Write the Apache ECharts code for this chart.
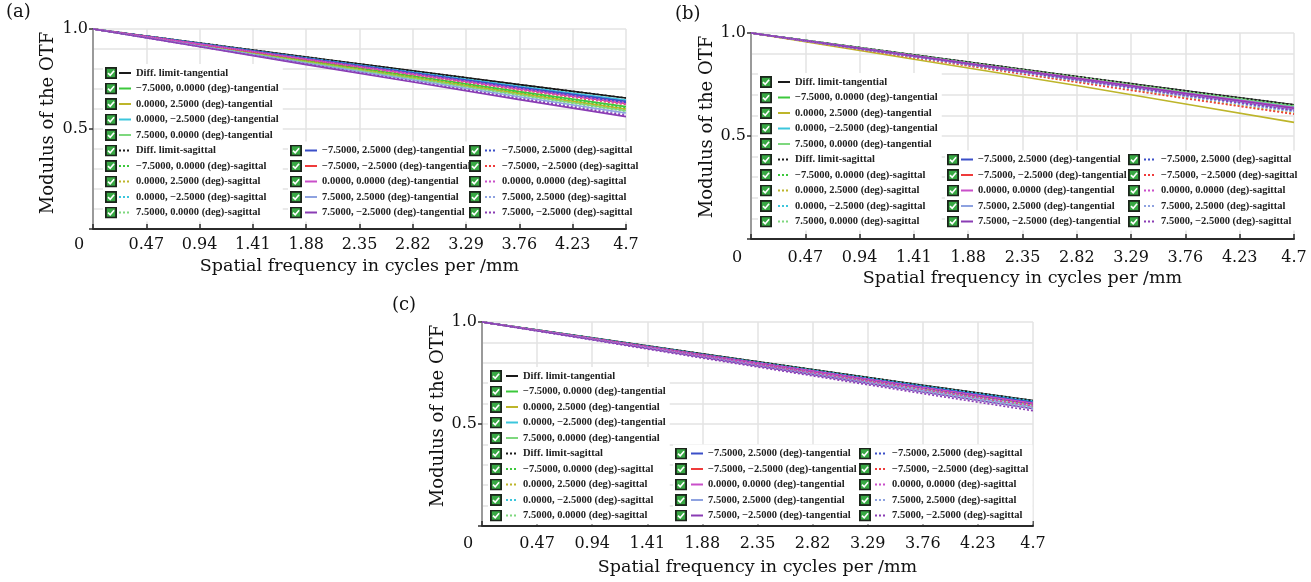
<!DOCTYPE html>
<html>
<head>
<meta charset="utf-8">
<script src="https://cdn.jsdelivr.net/npm/echarts@6/dist/echarts.min.js"></script>
<style>html,body{margin:0;padding:0;background:#fff;}#c{width:1311px;height:582px;}</style>
</head>
<body>
<div id="c"></div>
<script>
// ---------- data ----------
const xValues = [0, 0.94, 1.88, 2.82, 3.76, 4.7];
const xTickLabels = ['0','0.47','0.94','1.41','1.88','2.35','2.82','3.29','3.76','4.23','4.7'];
const yTickValues = [0.5, 1.0];
const yTickLabels = ['0.5', '1.0'];
const xAxisTitle = 'Spatial frequency in cycles per /mm';
const yAxisTitle = 'Modulus of the OTF';
const panelLabels = ['(a)', '(b)', '(c)'];

const seriesNames = [
  'Diff. limit-tangential',
  '\u22127.5000, 0.0000 (deg)-tangential',
  '0.0000, 2.5000 (deg)-tangential',
  '0.0000, \u22122.5000 (deg)-tangential',
  '7.5000, 0.0000 (deg)-tangential',
  'Diff. limit-sagittal',
  '\u22127.5000, 0.0000 (deg)-sagittal',
  '0.0000, 2.5000 (deg)-sagittal',
  '0.0000, \u22122.5000 (deg)-sagittal',
  '7.5000, 0.0000 (deg)-sagittal',
  '\u22127.5000, 2.5000 (deg)-tangential',
  '\u22127.5000, \u22122.5000 (deg)-tangential',
  '0.0000, 0.0000 (deg)-tangential',
  '7.5000, 2.5000 (deg)-tangential',
  '7.5000, \u22122.5000 (deg)-tangential',
  '\u22127.5000, 2.5000 (deg)-sagittal',
  '\u22127.5000, \u22122.5000 (deg)-sagittal',
  '0.0000, 0.0000 (deg)-sagittal',
  '7.5000, 2.5000 (deg)-sagittal',
  '7.5000, \u22122.5000 (deg)-sagittal'
];
const seriesColors = [
  '#1a1a1a','#3cc83c','#bdb52a','#3cc6dc','#7ed87e',
  '#1a1a1a','#3cc83c','#bdb52a','#3cc6dc','#7ed87e',
  '#3b4fc8','#ef3b3b','#c94fc9','#8ea2e0','#8a3cb4',
  '#3b4fc8','#ef3b3b','#c94fc9','#8ea2e0','#8a3cb4'
];
const seriesDotted = [
  false,false,false,false,false, true,true,true,true,true,
  false,false,false,false,false, true,true,true,true,true
];

const mtfA = [
  [1,.930,.860,.791,.722,.655],
  [1,.921,.842,.765,.687,.612],
  [1,.919,.838,.758,.678,.600],
  [1,.928,.856,.785,.714,.645],
  [1,.917,.834,.753,.671,.592],
  [1,.930,.860,.791,.722,.655],
  [1,.920,.840,.761,.682,.605],
  [1,.918,.837,.756,.676,.598],
  [1,.927,.854,.782,.710,.640],
  [1,.916,.833,.750,.668,.588],
  [1,.927,.853,.781,.708,.638],
  [1,.924,.849,.775,.700,.628],
  [1,.925,.850,.776,.702,.630],
  [1,.915,.829,.745,.661,.580],
  [1,.911,.822,.735,.647,.562],
  [1,.925,.851,.777,.703,.632],
  [1,.923,.847,.771,.695,.622],
  [1,.924,.848,.773,.698,.625],
  [1,.914,.827,.742,.657,.575],
  [1,.912,.825,.738,.652,.568]
];
const mtfB = [
  [1,.929,.859,.789,.720,.652],
  [1,.927,.855,.783,.711,.642],
  [1,.915,.830,.745,.655,.566],
  [1,.928,.856,.785,.714,.645],
  [1,.929,.857,.787,.716,.648],
  [1,.929,.859,.789,.720,.652],
  [1,.925,.851,.777,.703,.632],
  [1,.921,.842,.764,.686,.610],
  [1,.926,.852,.779,.706,.635],
  [1,.927,.854,.782,.710,.640],
  [1,.925,.850,.776,.702,.630],
  [1,.925,.851,.778,.704,.633],
  [1,.927,.853,.781,.708,.638],
  [1,.924,.849,.775,.700,.628],
  [1,.926,.852,.779,.706,.635],
  [1,.923,.846,.770,.694,.620],
  [1,.920,.840,.761,.682,.606],
  [1,.924,.849,.775,.700,.628],
  [1,.922,.845,.769,.692,.618],
  [1,.924,.848,.773,.698,.625]
];
const mtfC = [
  [1,.922,.844,.767,.690,.615],
  [1,.921,.842,.764,.686,.610],
  [1,.918,.837,.756,.676,.598],
  [1,.921,.842,.765,.687,.612],
  [1,.918,.836,.755,.674,.595],
  [1,.922,.844,.767,.690,.615],
  [1,.919,.838,.758,.678,.600],
  [1,.916,.832,.749,.666,.585],
  [1,.920,.840,.761,.682,.605],
  [1,.915,.830,.747,.663,.582],
  [1,.920,.840,.761,.682,.606],
  [1,.919,.838,.758,.678,.600],
  [1,.919,.838,.759,.679,.602],
  [1,.916,.832,.749,.666,.585],
  [1,.914,.827,.742,.657,.575],
  [1,.918,.836,.755,.674,.595],
  [1,.917,.834,.752,.670,.590],
  [1,.917,.834,.753,.671,.592],
  [1,.914,.827,.742,.657,.575],
  [1,.912,.823,.736,.649,.565]
];

// ---------- layout (positions / styles) ----------
const FONT = 'DejaVu Serif';
const LFONT = 'Liberation Serif';
const TXT = '#111';
const GRIDC = '#e3e3e3';
const panels = [
  { data: mtfA, grid:{left:93, top:29, width:533, height:200}, lab:{left:6, top:3},
    xMargin:8, xGap:28, yGap:36, yShift:12,
    cb:[105,290,469], ln:[118,304,484], tops:[67,144.5] },
  { data: mtfB, grid:{left:751, top:33, width:543, height:206}, lab:{left:675, top:5},
    xMargin:11, xGap:30, yGap:30, yShift:18,
    cb:[760,947,1128], ln:[777,960,1143], tops:[76,153.5] },
  { data: mtfC, grid:{left:482, top:322, width:551, height:204}, lab:{left:392, top:296},
    xMargin:10, xGap:32, yGap:34, yShift:16,
    cb:[490,675,859], ln:[505,690,874], tops:[370,447.5] }
];

const CHECK_SVG = "<svg xmlns='http://www.w3.org/2000/svg' width='12' height='12' viewBox='0 0 12 12'>" +
  "<rect x='0' y='0' width='12' height='12' fill='#1b241b'/>" +
  "<rect x='1.8' y='1.8' width='8.4' height='8.4' fill='#38a844'/>" +
  "<path d='M3 6.1 L5.2 8.3 L9.1 3.7' stroke='#ffffff' stroke-width='1.6' fill='none'/></svg>";
const CHECK_ICON = 'image://data:image/svg+xml;charset=utf-8,' + encodeURIComponent(CHECK_SVG);

function fmtX(v) {
  const i = Math.round(v / 0.47);
  const t = xTickLabels[i] !== undefined ? xTickLabels[i] : '';
  return i === 0 ? '{z|' + t + '}' : t;
}
function fmtY(v) {
  const k = yTickValues.indexOf(Math.round(v * 10) / 10);
  return k < 0 ? '' : yTickLabels[k];
}

const option = { animation:false, backgroundColor:'#ffffff',
  title:[], grid:[], xAxis:[], yAxis:[], legend:[], series:[] };

const colSlices = [[0,10],[10,15],[15,20]];

panels.forEach((p, pi) => {
  option.title.push({ text: panelLabels[pi], left: p.lab.left, top: p.lab.top, padding:0,
    textStyle:{ fontFamily:FONT, fontSize:18, fontWeight:'normal', color:TXT } });
  option.grid.push(Object.assign({ containLabel:false }, p.grid));
  option.xAxis.push({
    gridIndex: pi, type:'value', min:0, max:4.7, interval:0.47,
    name: xAxisTitle, nameLocation:'middle', nameGap: p.xGap,
    nameTextStyle:{ fontFamily:FONT, fontSize:17.5, color:TXT },
    axisLine:{ show:true, onZero:false, lineStyle:{ color:'#2b2b2b', width:2 } },
    axisTick:{ show:true, inside:true, length:5, lineStyle:{ color:'#2b2b2b', width:1.5 } },
    axisLabel:{ margin: p.xMargin, fontFamily:FONT, fontSize:16, color:TXT, formatter: fmtX,
      rich:{ z:{ fontFamily:FONT, fontSize:16, color:TXT, padding:[0,28,0,0] } } },
    splitLine:{ show:true, lineStyle:{ color:GRIDC, width:1.5 } }
  });
  option.yAxis.push({
    gridIndex: pi, type:'value', min:0, max:1, interval:0.5,
    name: yAxisTitle, nameLocation:'middle', nameGap: p.yGap, nameRotate:90,
    nameTextStyle:{ fontFamily:FONT, fontSize:18, color:TXT, padding:[0,0,0,p.yShift] },
    axisLine:{ show:true, lineStyle:{ color:'#9a9a9a', width:2 } },
    axisTick:{ show:true, length:4, lineStyle:{ color:'#333', width:1.5 } },
    axisLabel:{ margin:5, fontFamily:FONT, fontSize:16, color:TXT, formatter: fmtY },
    splitLine:{ show:true, lineStyle:{ color:GRIDC, width:1.5 } },
    minorTick:{ show:false, splitNumber:5 },
    minorSplitLine:{ show:true, lineStyle:{ color:GRIDC, width:1.5 } }
  });
  seriesNames.forEach((nm, j) => {
    option.series.push({
      type:'line', name: nm, xAxisIndex: pi, yAxisIndex: pi,
      data: xValues.map((x, k) => [x, p.data[j][k]]),
      symbol:'none', showSymbol:false, silent:true,
      lineStyle:{ color: seriesColors[j], width:1.6, type: seriesDotted[j] ? [2,2] : 'solid' },
      itemStyle:{ color: seriesColors[j] }
    });
  });
  colSlices.forEach((sl, ci) => {
    const names = seriesNames.slice(sl[0], sl[1]);
    const top = ci === 0 ? p.tops[0] : p.tops[1];
    // line sample + text legend (white background)
    option.legend.push({
      orient:'vertical', left: p.cb[ci] - 2, top: top - 3,
      padding:[3, 4, 3, p.ln[ci] - p.cb[ci] + 2],
      backgroundColor:'#ffffff', z: ci === 1 ? 6 : 5,
      itemWidth:12, itemHeight:12, itemGap:3.5, selectedMode:false,
      itemStyle:{ opacity:0, borderWidth:0 },
      lineStyle:{ width:2 },
      textStyle:{ fontFamily:LFONT, fontSize:10.5, fontWeight:'bold', color:'#222', lineHeight:12 },
      data: names
    });
    // checkbox legend
    option.legend.push({
      orient:'vertical', left: p.cb[ci], top: top, padding:0, z:8,
      icon: CHECK_ICON, itemWidth:12, itemHeight:12, itemGap:3.5, selectedMode:false,
      formatter: function(){ return ' '; },
      textStyle:{ fontFamily:LFONT, fontSize:10.5, lineHeight:12 },
      data: names
    });
  });
});

const chart = echarts.init(document.getElementById('c'), null, { renderer:'canvas' });
chart.setOption(option);
</script>
</body>
</html>
